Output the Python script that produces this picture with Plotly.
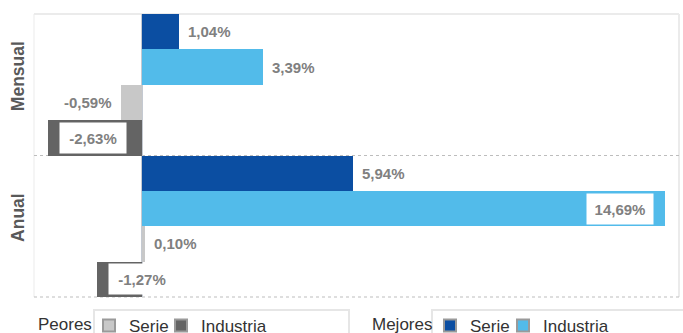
import plotly.graph_objects as go

# Data
periodos = ["Mensual", "Anual"]
serie_mejores = [1.04, 5.94]
industria_mejores = [3.39, 14.69]
serie_peores = [-0.59, 0.10]
industria_peores = [-2.63, -1.27]

# (key, legend name, values, colour, legend id)
series = [
    ("serie_mejores", "Serie", serie_mejores, "#0b4ea2", "legend3"),
    ("industria_mejores", "Industria", industria_mejores, "#52bbea", "legend4"),
    ("serie_peores", "Serie", serie_peores, "#c8c8c8", "legend"),
    ("industria_peores", "Industria", industria_peores, "#646464", "legend2"),
]

# labels that sit in a white box inside the bar end
etiquetas_caja = {("industria_mejores", 1), ("industria_peores", 0), ("industria_peores", 1)}

FONT = "Liberation Sans, Arial, sans-serif"
LABEL_COLOR = "#808080"
W, L = 645, 34  # plot width / left margin in px, used for paper positions below

fig = go.Figure()

for key, name, vals, color, leg in series:
    fig.add_trace(go.Bar(
        x=vals, y=periodos, orientation="h",
        marker=dict(color=color, line=dict(width=0)),
        offsetgroup=key, showlegend=False, hoverinfo="skip",
    ))

# legend-only entries (bordered swatches)
for key, name, vals, color, leg in series:
    fig.add_trace(go.Bar(
        x=[None], y=[periodos[0]], orientation="h", name=name,
        marker=dict(color=color, line=dict(color="#9a9a9a", width=2)),
        offsetgroup=key, legend=leg, showlegend=True, hoverinfo="skip",
    ))

# value labels
annotations = []
n = len(series)
for i, (key, name, vals, color, leg) in enumerate(series):
    offset = -0.5 + (i + 0.5) / n
    for j, v in enumerate(vals):
        txt = "<b>" + f"{v:.2f}".replace(".", ",") + "%</b>"
        base = dict(x=v, y=j + offset, xref="x", yref="y", text=txt, showarrow=False,
                    font=dict(family=FONT, size=15, color=LABEL_COLOR), yanchor="middle")
        if (key, j) in etiquetas_caja:
            base.update(xanchor="right" if v >= 0 else "left",
                        xshift=-11 if v >= 0 else 11,
                        bgcolor="white", width=66, height=30, borderpad=0, align="center")
        else:
            base.update(xanchor="left" if v >= 0 else "right",
                        xshift=7 if v >= 0 else -7)
        annotations.append(base)

# legend captions
for caption, px in [("Peores", 36), ("Mejores", 370)]:
    annotations.append(dict(x=(px - L) / W, y=-0.098, xref="paper", yref="paper", text=caption,
                            showarrow=False, xanchor="left", yanchor="middle",
                            font=dict(family=FONT, size=17, color="#333333")))

shapes = [
    # plot frame
    dict(type="line", xref="paper", yref="paper", x0=0, x1=1, y0=1, y1=1,
         line=dict(color="#ebebeb", width=2), layer="below"),
    dict(type="line", xref="paper", yref="paper", x0=0, x1=0, y0=0, y1=1,
         line=dict(color="#ebebeb", width=1), layer="below"),
    dict(type="line", xref="paper", yref="paper", x0=1, x1=1, y0=0, y1=1,
         line=dict(color="#ebebeb", width=2), layer="below"),
    dict(type="line", xref="paper", yref="paper", x0=0, x1=1, y0=0, y1=0,
         line=dict(color="#bdbdbd", width=1, dash="dot"), layer="below"),
    # category separator
    dict(type="line", xref="paper", yref="y", x0=0, x1=1, y0=0.5, y1=0.5,
         line=dict(color="#bdbdbd", width=1, dash="dot"), layer="below"),
    # legend frames
    dict(type="rect", xref="paper", yref="paper", x0=(94 - L) / W, x1=(349 - L) / W,
         y0=-0.2, y1=(297 - 310) / 283, line=dict(color="#e6e6e6", width=2)),
    dict(type="rect", xref="paper", yref="paper", x0=(432 - L) / W, x1=1.02,
         y0=-0.2, y1=(297 - 310) / 283, line=dict(color="#e6e6e6", width=2)),
]

legend_style = dict(orientation="h", xanchor="left", yanchor="top", y=-0.039,
                    bgcolor="rgba(0,0,0,0)", borderwidth=0,
                    font=dict(family=FONT, size=17, color="#333333"))

fig.update_layout(
    width=683, height=333,
    margin=dict(l=L, r=4, t=14, b=36, autoexpand=False),
    paper_bgcolor="white", plot_bgcolor="white",
    barmode="group", bargap=0, bargroupgap=0,
    font=dict(family=FONT),
    xaxis=dict(range=[-3.03, 15.09], showgrid=False, showticklabels=False, ticks="",
               zeroline=True, zerolinecolor="#c4c9d1", zerolinewidth=2, fixedrange=True),
    yaxis=dict(type="category", range=[1.5, -0.5], showgrid=False, ticks="",
               tickangle=-90, ticklabelshift=6, ticklabelstandoff=6,
               tickfont=dict(family=FONT, size=17.5, color="#595959", weight="bold"),
               zeroline=False, fixedrange=True),
    legend=dict(x=(89 - L) / W, **legend_style),
    legend2=dict(x=(161 - L) / W, **legend_style),
    legend3=dict(x=(430 - L) / W, **legend_style),
    legend4=dict(x=(503 - L) / W, **legend_style),
    annotations=annotations,
    shapes=shapes,
)

fig.write_html("out.html", config={"displayModeBar": False},
               post_script="document.body.style.margin='0';")
